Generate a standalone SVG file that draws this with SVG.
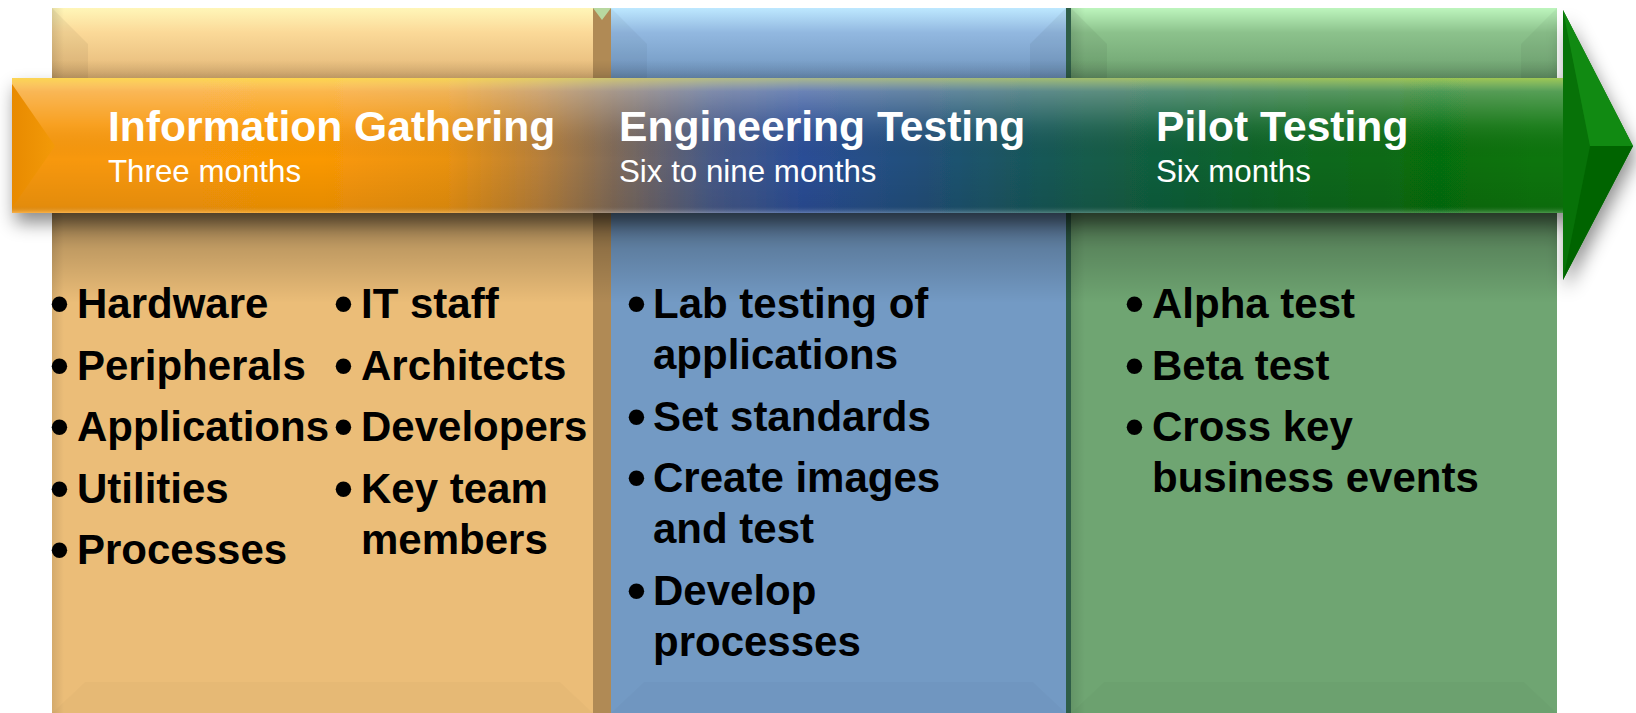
<svg xmlns="http://www.w3.org/2000/svg" width="1636" height="713" viewBox="0 0 1636 713">
<defs>
<style>
.head{font-family:"Liberation Sans",Arial,sans-serif;font-weight:bold;font-size:42.6px;fill:#ffffff}
.sub{font-family:"Liberation Sans",Arial,sans-serif;font-size:31.3px;fill:#ffffff}
.item{font-family:"Liberation Sans",Arial,sans-serif;font-weight:bold;font-size:42px;fill:#000000}
.dot{font-family:"Liberation Sans",Arial,sans-serif;font-weight:bold;font-size:54px;fill:#000000}
</style>
<linearGradient id="topO" x1="0" y1="0" x2="0" y2="1"><stop offset="0" stop-color="#FFF6B8"/><stop offset="0.35" stop-color="#FBD998"/><stop offset="1" stop-color="#E3B676"/></linearGradient>
<linearGradient id="topB" x1="0" y1="0" x2="0" y2="1"><stop offset="0" stop-color="#BDE8FF"/><stop offset="0.35" stop-color="#92B8E0"/><stop offset="1" stop-color="#6F95BE"/></linearGradient>
<linearGradient id="topG" x1="0" y1="0" x2="0" y2="1"><stop offset="0" stop-color="#BDF5BD"/><stop offset="0.35" stop-color="#8CC28C"/><stop offset="1" stop-color="#6CA06E"/></linearGradient>
<linearGradient id="edgeL" x1="0" y1="0" x2="1" y2="0"><stop offset="0" stop-color="#000" stop-opacity="0.1"/><stop offset="1" stop-color="#000" stop-opacity="0"/></linearGradient>
<linearGradient id="underShade" x1="0" y1="0" x2="0" y2="1"><stop offset="0" stop-color="#000" stop-opacity="0.42"/><stop offset="0.4" stop-color="#000" stop-opacity="0.18"/><stop offset="1" stop-color="#000" stop-opacity="0"/></linearGradient>
<linearGradient id="overShade" x1="0" y1="0" x2="0" y2="1"><stop offset="0" stop-color="#000" stop-opacity="0"/><stop offset="1" stop-color="#000" stop-opacity="0.12"/></linearGradient>
<linearGradient id="bandH" gradientUnits="userSpaceOnUse" x1="12" y1="0" x2="1563" y2="0">
<stop offset="0" stop-color="#F7980A"/>
<stop offset="0.2" stop-color="#FA9805"/>
<stop offset="0.28" stop-color="#EA9210"/>
<stop offset="0.34" stop-color="#B8803A"/>
<stop offset="0.39" stop-color="#7E6A5A"/>
<stop offset="0.45" stop-color="#485A86"/>
<stop offset="0.51" stop-color="#2B4E96"/>
<stop offset="0.59" stop-color="#215078"/>
<stop offset="0.68" stop-color="#155A50"/>
<stop offset="0.8" stop-color="#0C6428"/>
<stop offset="0.92" stop-color="#066E0C"/>
<stop offset="1" stop-color="#0A760A"/>
</linearGradient>
<linearGradient id="bandV" x1="0" y1="0" x2="0" y2="1">
<stop offset="0" stop-color="#FFFF80" stop-opacity="0.6"/>
<stop offset="0.1" stop-color="#FFFFFF" stop-opacity="0.3"/>
<stop offset="0.35" stop-color="#FFFFFF" stop-opacity="0.08"/>
<stop offset="0.6" stop-color="#000000" stop-opacity="0"/>
<stop offset="0.95" stop-color="#000000" stop-opacity="0.08"/>
<stop offset="1" stop-color="#FFFFFF" stop-opacity="0.25"/>
</linearGradient>
<linearGradient id="leftFacet" x1="0" y1="0" x2="1" y2="0"><stop offset="0" stop-color="#E88A00"/><stop offset="1" stop-color="#F39A08"/></linearGradient>
<filter id="shadow" x="-5%" y="-20%" width="110%" height="150%">
<feDropShadow dx="3" dy="10" stdDeviation="9" flood-color="#000" flood-opacity="0.45"/>
</filter>
</defs>
<rect x="0" y="0" width="1636" height="713" fill="#ffffff"/>

<g id="phase-information-gathering">
<rect x="52" y="8" width="559" height="705" fill="#EBBD78"/>
<rect x="52" y="8" width="559" height="70" fill="url(#topO)"/>
<polygon points="52,8 88,44 88,78 52,78" fill="#000" opacity="0.05"/>
<rect x="52" y="8" width="12" height="705" fill="url(#edgeL)"/>
<polygon points="52,713 85,682 560,682 593,713" fill="#000" opacity="0.02"/>
<rect x="593" y="8" width="18" height="705" fill="#B08A55"/>
<polygon points="593,8 611,8 602,20" fill="#B8D8A0"/>
</g>

<g id="phase-engineering-testing">
<rect x="611" y="8" width="458" height="705" fill="#739AC4"/>
<rect x="611" y="8" width="458" height="70" fill="url(#topB)"/>
<polygon points="611,8 647,44 647,78 611,78" fill="#000" opacity="0.04"/>
<polygon points="1030,44 1066,8 1066,78 1030,78" fill="#000" opacity="0.05"/>
<polygon points="611,713 644,682 1033,682 1066,713" fill="#000" opacity="0.02"/>
<rect x="1066" y="8" width="5" height="705" fill="#2F5E48"/>
</g>

<g id="phase-pilot-testing">
<rect x="1071" y="8" width="486" height="705" fill="#6FA572"/>
<rect x="1071" y="8" width="486" height="70" fill="url(#topG)"/>
<polygon points="1071,8 1107,44 1107,78 1071,78" fill="#000" opacity="0.05"/>
<polygon points="1521,44 1557,8 1557,78 1521,78" fill="#000" opacity="0.04"/>
<rect x="1071" y="8" width="14" height="705" fill="url(#edgeL)"/>
<polygon points="1071,713 1104,682 1524,682 1557,713" fill="#000" opacity="0.02"/>
</g>

<rect x="52" y="60" width="1505" height="18" fill="url(#overShade)"/>
<rect x="52" y="213" width="1505" height="90" fill="url(#underShade)"/>

<g id="timeline">
<g filter="url(#shadow)">
<path d="M12,78 H1563 V10 L1633,146 L1563,280 V213 H12 Z" fill="url(#bandH)"/>
</g>
<rect x="12" y="78" width="1551" height="135" fill="url(#bandV)"/>
<polygon points="12,84 55,146 12,208" fill="url(#leftFacet)"/>
<polygon points="1563,10 1590,146 1563,280" fill="#077208"/>
<polygon points="1563,10 1633,146 1590,146" fill="#118A12"/>
<polygon points="1590,146 1633,146 1563,280" fill="#006400"/>
</g>

<g id="label-information-gathering">
<text class="head" x="108" y="141">Information Gathering</text>
<text class="sub" x="108" y="182">Three months</text>
</g>
<g id="label-engineering-testing">
<text class="head" x="619" y="141">Engineering Testing</text>
<text class="sub" x="619" y="182">Six to nine months</text>
</g>
<g id="label-pilot-testing">
<text class="head" x="1156" y="141">Pilot Testing</text>
<text class="sub" x="1156" y="182">Six months</text>
</g>

<g id="list-information-gathering">
<text class="dot" x="50" y="322">•</text><text class="item" x="77" y="318">Hardware</text>
<text class="dot" x="50" y="383.5">•</text><text class="item" x="77" y="379.5">Peripherals</text>
<text class="dot" x="50" y="445">•</text><text class="item" x="77" y="441">Applications</text>
<text class="dot" x="50" y="506.5">•</text><text class="item" x="77" y="502.5">Utilities</text>
<text class="dot" x="50" y="568">•</text><text class="item" x="77" y="564">Processes</text>
<text class="dot" x="334" y="322">•</text><text class="item" x="361" y="318">IT staff</text>
<text class="dot" x="334" y="383.5">•</text><text class="item" x="361" y="379.5">Architects</text>
<text class="dot" x="334" y="445">•</text><text class="item" x="361" y="441">Developers</text>
<text class="dot" x="334" y="506.5">•</text><text class="item" x="361" y="502.5">Key team<tspan x="361" y="553.5">members</tspan></text>
</g>

<g id="list-engineering-testing">
<text class="dot" x="627" y="322">•</text><text class="item" x="653" y="318">Lab testing of<tspan x="653" y="369">applications</tspan></text>
<text class="dot" x="627" y="434.5">•</text><text class="item" x="653" y="430.5">Set standards</text>
<text class="dot" x="627" y="496">•</text><text class="item" x="653" y="492">Create images<tspan x="653" y="543">and test</tspan></text>
<text class="dot" x="627" y="608.5">•</text><text class="item" x="653" y="604.5">Develop<tspan x="653" y="655.5">processes</tspan></text>
</g>

<g id="list-pilot-testing">
<text class="dot" x="1125" y="322">•</text><text class="item" x="1152" y="318">Alpha test</text>
<text class="dot" x="1125" y="383.5">•</text><text class="item" x="1152" y="379.5">Beta test</text>
<text class="dot" x="1125" y="445">•</text><text class="item" x="1152" y="441">Cross key<tspan x="1152" y="492">business events</tspan></text>
</g>

<g id="connectors"></g>
</svg>
